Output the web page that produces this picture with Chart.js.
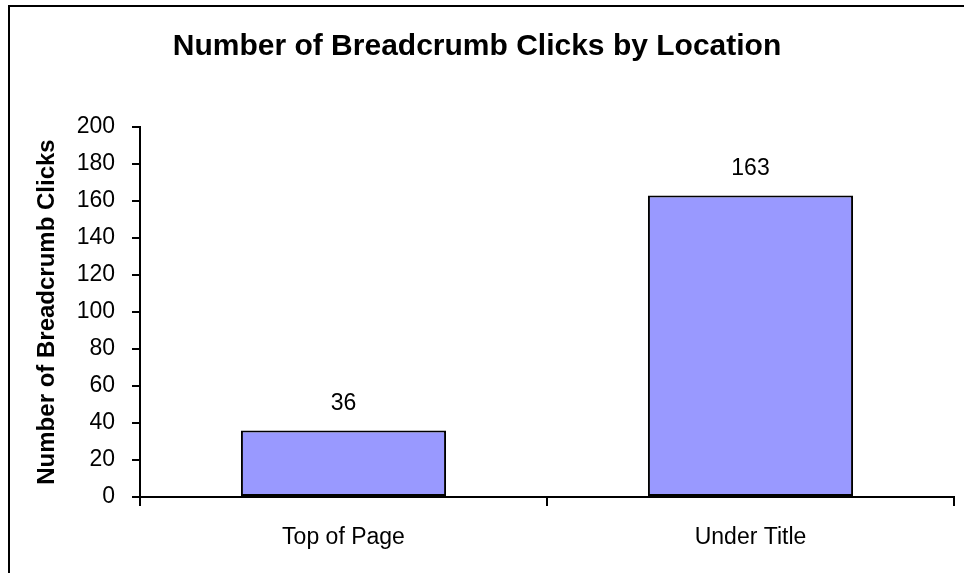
<!DOCTYPE html>
<html>
<head>
<meta charset="utf-8">
<script src="https://cdn.jsdelivr.net/npm/chart.js@4.4.1/dist/chart.umd.min.js"></script>
<style>
  body { margin: 0; background: #fff; }
  #wrap { position: relative; width: 964px; height: 573px; overflow: hidden; }
  /* chart frame, only top and left edges are visible in the picture */
  #frame { position: absolute; left: 8px; top: 5px; width: 1000px; height: 600px;
           border-top: 2px solid #000; border-left: 2px solid #000; }
  canvas { position: absolute; left: 0; top: 0; }
</style>
</head>
<body>
<div id="wrap">
  <div id="frame"></div>
  <canvas id="clicksChart" width="964" height="573"></canvas>
</div>
<script>
// data
const locations = ["Top of Page", "Under Title"];
const clicks = [36, 163];
const yTicks = [0, 20, 40, 60, 80, 100, 120, 140, 160, 180, 200];

const chartTitle = "Number of Breadcrumb Clicks by Location";
const yTitle = "Number of Breadcrumb Clicks";

const FONT = "'Liberation Sans', Arial, sans-serif";

// draws the value above each bar
const valueLabels = {
  id: 'valueLabels',
  afterDatasetsDraw(chart) {
    const ctx = chart.ctx;
    const meta = chart.getDatasetMeta(0);
    ctx.save();
    ctx.font = "23px " + FONT;
    ctx.fillStyle = "#000";
    ctx.textAlign = "center";
    ctx.textBaseline = "middle";
    meta.data.forEach((bar, i) => {
      ctx.fillText(String(clicks[i]), bar.x, bar.y - 27);
    });
    ctx.restore();
  }
};

const ctx = document.getElementById("clicksChart").getContext("2d");
const clicksChart = new Chart(ctx, {
  type: "bar",
  data: {
    labels: locations,
    datasets: [{
      data: clicks,
      backgroundColor: "#9999FF",
      borderColor: "#000",
      borderWidth: 2,
      borderSkipped: false,
      categoryPercentage: 1.0,
      barPercentage: 0.504
    }]
  },
  options: {
    responsive: false,
    animation: false,
    layout: { padding: { left: 0, right: 10, top: 0, bottom: 0 } },
    plugins: {
      legend: { display: false },
      tooltip: { enabled: false },
      title: {
        display: true,
        text: chartTitle,
        color: "#000",
        font: { family: FONT, size: 30, weight: "bold" },
        padding: { top: 29, bottom: 62 }
      }
    },
    scales: {
      x: {
        grid: { display: true, offset: true, drawOnChartArea: false, drawTicks: true,
                tickLength: 9, color: "#000", lineWidth: 2 },
        border: { display: true, color: "#000", width: 2 },
        ticks: { color: "#000", font: { family: FONT, size: 23 }, padding: 18, maxRotation: 0 },
        afterFit(scale) { scale.height = 76; }
      },
      y: {
        min: 0,
        max: 200,
        afterBuildTicks(scale) { scale.ticks = yTicks.map(v => ({ value: v })); },
        grid: { display: true, drawOnChartArea: false, drawTicks: true,
                tickLength: 8, color: "#000", lineWidth: 2 },
        border: { display: true, color: "#000", width: 2 },
        ticks: { color: "#000", font: { family: FONT, size: 23 }, padding: 17 },
        title: {
          display: true,
          text: yTitle,
          color: "#000",
          font: { family: FONT, size: 24, weight: "bold" },
          padding: { top: 33, bottom: 0 }
        },
        afterFit(scale) { scale.width = 140; }
      }
    }
  },
  plugins: [valueLabels]
});
</script>
</body>
</html>
